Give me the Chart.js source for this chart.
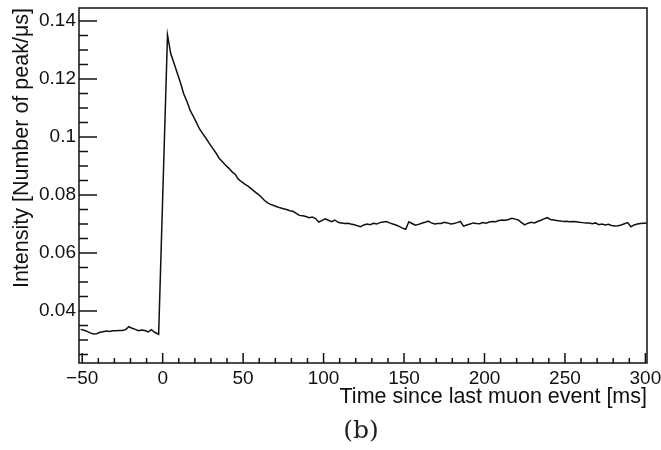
<!DOCTYPE html>
<html>
<head>
<meta charset="utf-8">
<script src="https://cdn.jsdelivr.net/npm/chart.js@4.4.1/dist/chart.umd.min.js"></script>
<style>
    html, body { margin: 0; padding: 0; background: #fff; }
    #wrap { position: relative; width: 661px; height: 450px; }
    #caption {
        position: absolute; left: 311px; top: 415px; width: 100px;
        text-align: center; font: 25px "DejaVu Serif", serif; color: #222;
    }
</style>
</head>
<body>
<div id="wrap">
    <canvas id="decayChart" width="661" height="450"></canvas>
    <div id="caption">(b)</div>
</div>
<script>
// time since last muon event [ms] and intensity [peaks/us]
const baselineTimes = [-51, -49, -47, -45, -43, -41, -39, -37, -35, -33, -31, -29, -27, -25, -23, -21, -19, -17, -15, -13, -11, -9, -7, -5, -2.5];
const baselineValues = [0.0337, 0.0334, 0.0330, 0.0325, 0.0321, 0.0322, 0.0327, 0.0329, 0.0331, 0.0330, 0.0332, 0.0332, 0.0333, 0.0333, 0.0336, 0.0346, 0.0341, 0.0337, 0.0332, 0.0335, 0.0333, 0.0328, 0.0336, 0.0327, 0.0320];

const decayTimes = [3, 5, 7, 9, 11, 13, 15, 17, 19, 21,
    23, 25, 27, 29, 31, 33, 35, 37, 39, 41,
    43, 45, 47, 49, 51, 53, 55, 57, 59, 61,
    63, 65, 67, 69, 71, 73, 75, 77, 79, 81,
    83, 85, 87, 89, 91, 93, 95, 97, 99, 101,
    103, 105, 107];
const decayValues = [0.1352, 0.1288, 0.1255, 0.1222, 0.1188, 0.1150, 0.1124, 0.1093, 0.1072, 0.1050,
    0.1027, 0.1011, 0.0995, 0.0978, 0.0962, 0.0946, 0.0928, 0.0916, 0.0904, 0.0893,
    0.0881, 0.0872, 0.0855, 0.0846, 0.0838, 0.0831, 0.0822, 0.0813, 0.0804, 0.0795,
    0.0783, 0.0774, 0.0768, 0.0764, 0.0760, 0.0756, 0.0753, 0.0750, 0.0746, 0.0744,
    0.0737, 0.0730, 0.0729, 0.0726, 0.0722, 0.0724, 0.0719, 0.0707, 0.0712, 0.0718,
    0.0713, 0.0708, 0.0714];

const plateauTimes = [109, 111, 113, 115, 117, 119, 121, 123, 125, 127,
    129, 131, 133, 135, 137, 139, 141, 143, 145, 147,
    149, 151, 153, 155, 157, 159, 161, 163, 165, 167,
    169, 171, 173, 175, 177, 179, 181, 183, 185, 187,
    189, 191, 193, 195, 197, 199, 201, 203, 205, 207,
    209, 211, 213, 215, 217, 219, 221, 223, 225, 227,
    229, 231, 233, 235, 237, 239, 241, 243, 245, 247,
    249, 251, 253, 255, 257, 259, 261, 263, 265, 267,
    269, 271, 273, 275, 277, 279, 281, 283, 285, 287,
    289, 291, 293, 295, 297, 299, 300.8];
const plateauValues = [0.0706, 0.0704, 0.0702, 0.0703, 0.0700, 0.0698, 0.0694, 0.0691, 0.0697, 0.0700,
    0.0698, 0.0703, 0.0700, 0.0705, 0.0707, 0.0709, 0.0704, 0.0700, 0.0697, 0.0692,
    0.0686, 0.0682, 0.0708, 0.0702, 0.0696, 0.0699, 0.0703, 0.0706, 0.0710, 0.0704,
    0.0700, 0.0702, 0.0702, 0.0706, 0.0704, 0.0700, 0.0702, 0.0705, 0.0709, 0.0693,
    0.0697, 0.0700, 0.0704, 0.0702, 0.0701, 0.0705, 0.0703, 0.0707, 0.0709, 0.0708,
    0.0712, 0.0714, 0.0713, 0.0716, 0.0720, 0.0717, 0.0714, 0.0705, 0.0697, 0.0703,
    0.0706, 0.0704, 0.0709, 0.0713, 0.0718, 0.0722, 0.0716, 0.0714, 0.0712, 0.0711,
    0.0709, 0.0710, 0.0708, 0.0709, 0.0708, 0.0706, 0.0705, 0.0704, 0.0704, 0.0701,
    0.0704, 0.0698, 0.0700, 0.0697, 0.0699, 0.0695, 0.0693, 0.0694, 0.0697, 0.0701,
    0.0705, 0.0691, 0.0697, 0.0700, 0.0702, 0.0703, 0.0704];

const xTicks = [-50, 0, 50, 100, 150, 200, 250, 300];
const xTickLabels = ["\u221250", "0", "50", "100", "150", "200", "250", "300"];
const yTicks = [0.04, 0.06, 0.08, 0.1, 0.12, 0.14];
const yTickLabels = ["0.04", "0.06", "0.08", "0.1", "0.12", "0.14"];

function toPoints(times, values) {
    return times.map((t, i) => ({ x: t, y: values[i] }));
}

const points = [].concat(
    toPoints(baselineTimes, baselineValues),
    toPoints(decayTimes, decayValues),
    toPoints(plateauTimes, plateauValues)
);

// ROOT style frame with inward major/minor ticks
const rootFrame = {
    id: "rootFrame",
    afterDraw(chart) {
        const ctx = chart.ctx;
        const area = chart.chartArea;
        const xs = chart.scales.x;
        const ys = chart.scales.y;

        ctx.save();
        ctx.strokeStyle = "#111";
        ctx.lineWidth = 1.5;
        ctx.strokeRect(area.left, area.top, area.right - area.left, area.bottom - area.top);

        ctx.beginPath();
        for (let v = -50; v <= xs.max + 0.01; v += 10) {
            const px = xs.getPixelForValue(v);
            const len = (v % 50 === 0) ? 10 : 5;
            ctx.moveTo(px, area.bottom);
            ctx.lineTo(px, area.bottom - len);
        }
        for (let k = 5; k <= 28; k++) {
            const v = k * 0.005;
            if (v < ys.min || v > ys.max) continue;
            const py = ys.getPixelForValue(v);
            const len = (k % 4 === 0) ? 18 : 9;
            ctx.moveTo(area.left, py);
            ctx.lineTo(area.left + len, py);
        }
        ctx.stroke();
        ctx.restore();
    }
};

const tickFont = { family: "'Liberation Sans', Arial, sans-serif", size: 19 };
const titleFont = { family: "'Liberation Sans', Arial, sans-serif", size: 21.5 };

new Chart(document.getElementById("decayChart").getContext("2d"), {
    type: "line",
    data: {
        datasets: [{
            data: points,
            borderColor: "#111",
            borderWidth: 1.5,
            pointRadius: 0,
            tension: 0,
            fill: false
        }]
    },
    options: {
        responsive: false,
        animation: false,
        layout: { padding: { top: 8, right: 14, left: 0, bottom: 0 } },
        plugins: {
            legend: { display: false },
            tooltip: { enabled: false }
        },
        scales: {
            x: {
                type: "linear",
                min: -52,
                max: 301,
                grid: { display: false, drawTicks: false },
                border: { display: false },
                afterBuildTicks: scale => { scale.ticks = xTicks.map(v => ({ value: v })); },
                afterFit: scale => {
                    scale.height = 87;
                    scale.paddingLeft = 0;
                    scale.paddingRight = 0;
                },
                ticks: {
                    padding: 4,
                    color: "#111",
                    font: tickFont,
                    maxRotation: 0,
                    autoSkip: false,
                    callback: (value) => xTickLabels[xTicks.indexOf(value)]
                },
                title: {
                    display: true,
                    text: "Time since last muon event [ms]",
                    align: "end",
                    color: "#111",
                    font: titleFont,
                    padding: { top: 0, bottom: 40 }
                }
            },
            y: {
                type: "linear",
                min: 0.0221,
                max: 0.1445,
                grid: { display: false, drawTicks: false },
                border: { display: false },
                afterBuildTicks: scale => { scale.ticks = yTicks.map(v => ({ value: v })); },
                afterFit: scale => {
                    scale.width = 79;
                    scale.paddingTop = 0;
                    scale.paddingBottom = 0;
                },
                ticks: {
                    padding: 3,
                    color: "#111",
                    font: tickFont,
                    autoSkip: false,
                    callback: (value) => yTickLabels[yTicks.indexOf(value)]
                },
                title: {
                    display: true,
                    text: "Intensity [Number of peak/\u03bcs]",
                    align: "end",
                    color: "#111",
                    font: titleFont,
                    padding: { top: 9, bottom: 0 }
                }
            }
        }
    },
    plugins: [rootFrame]
});
</script>
</body>
</html>
